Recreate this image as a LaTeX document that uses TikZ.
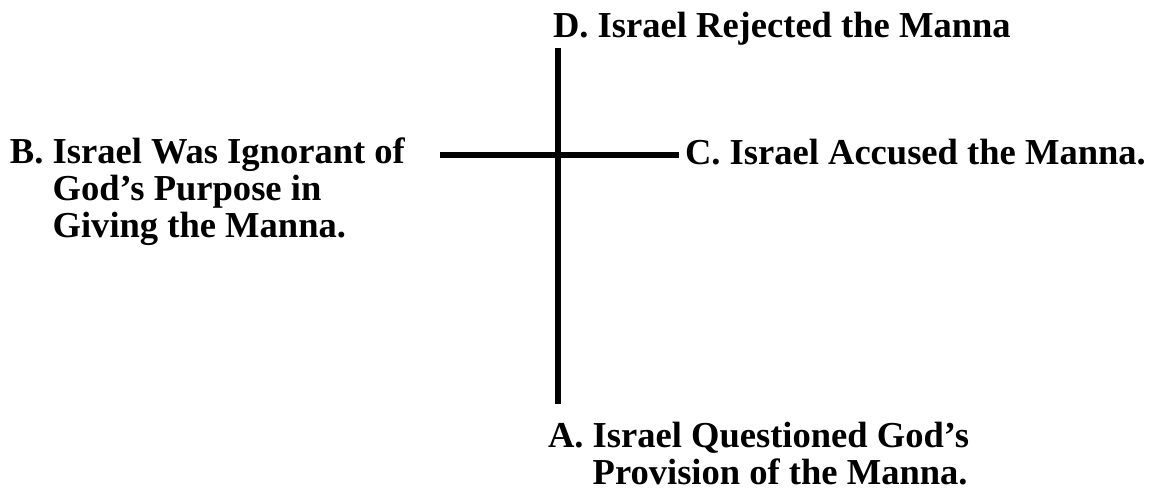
\documentclass[tikz,border=0pt]{standalone}
\usepackage{fontspec}
\setmainfont{Liberation Serif}
\begin{document}
\begin{tikzpicture}[x=0.02cm,y=-0.02cm,
  lbl/.style={anchor=base west,inner sep=0pt,outer sep=0pt,align=left,
    font=\bfseries\fontsize{20.8pt}{20.8pt}\selectfont},
  bar/.style={line width=2.9pt,black}]
\useasboundingbox[fill=white] (0,0) rectangle (1175,491);
\coordinate (top) at (558,48);
\coordinate (bot) at (558,404);
\coordinate (lft) at (440,155);
\coordinate (rgt) at (679,155);
\draw[bar] (top) -- (bot);
\draw[bar] (lft) -- (rgt);
\node[lbl] (D) at (553,37) {D. Israel Rejected the Manna};
\node[lbl] (C) at (685,164) {C. Israel Accused the Manna.};
\node[lbl] (B) at (10,237) {B. Israel Was Ignorant of\\\hphantom{B.\ }God’s Purpose in\\\hphantom{B.\ }Giving the Manna.};
\node[lbl] (A) at (548,484) {A. Israel Questioned God’s\\\hphantom{A.\ }Provision of the Manna.};
\end{tikzpicture}
\end{document}
